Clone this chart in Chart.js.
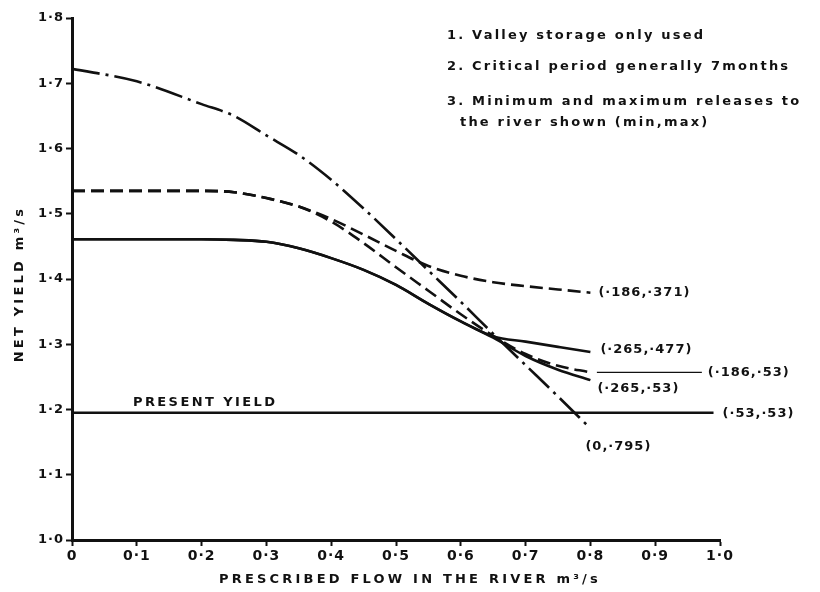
<!DOCTYPE html>
<html>
<head>
<meta charset="utf-8">
<script src="https://cdn.jsdelivr.net/npm/chart.js@4.4.0/dist/chart.umd.min.js"></script>
<style>
html, body { margin: 0; padding: 0; background: #fff; }
</style>
</head>
<body>
<canvas id="chart" width="820" height="592"></canvas>
<script>
// prescribed flow in the river (m3/s) where the curves were read
var flow = [0, 0.1, 0.2, 0.25, 0.3, 0.35, 0.4, 0.45, 0.5, 0.55, 0.6, 0.65, 0.7, 0.75, 0.8];

// net yield (m3/s) for each (min, max) release pair
var yield_0_795   = [1.722, 1.703, 1.668, 1.650, 1.620, 1.590, 1.552, 1.508, 1.461, 1.413, 1.365, 1.316, 1.268, 1.220, 1.171];
var yield_186_371 = [1.535, 1.535, 1.535, 1.533, 1.524, 1.511, 1.492, 1.468, 1.443, 1.420, 1.405, 1.395, 1.389, 1.384, 1.379];
var yield_186_53  = [1.535, 1.535, 1.535, 1.533, 1.524, 1.511, 1.488, 1.455, 1.418, 1.382, 1.346, 1.313, 1.285, 1.267, 1.257];
var yield_265_477 = [1.461, 1.461, 1.461, 1.460, 1.457, 1.447, 1.432, 1.414, 1.391, 1.362, 1.335, 1.312, 1.304, 1.296, 1.288];
var yield_265_53  = [1.461, 1.461, 1.461, 1.460, 1.457, 1.447, 1.432, 1.414, 1.391, 1.362, 1.335, 1.310, 1.282, 1.261, 1.245];

// present yield (·53,·53) is flat
var presentFlow = [0, 0.99];
var presentYield = 1.195;

// thin leader from the (·186,·53) curve to its label
var leaderFlow = [0.81, 0.972];

var xTickLabels = ['0', '0·1', '0·2', '0·3', '0·4', '0·5', '0·6', '0·7', '0·8', '0·9', '1·0'];
var yTickLabels = ['1·0', '1·1', '1·2', '1·3', '1·4', '1·5', '1·6', '1·7', '1·8'];

var notes = [
  '1. Valley storage only used',
  '2. Critical period generally 7months',
  '3. Minimum and maximum releases to',
  'the river shown (min,max)'
];

function pts(xs, ys) {
  return xs.map(function (x, i) { return { x: x, y: ys[i] }; });
}
function flat(xs, v) {
  return xs.map(function (x) { return { x: x, y: v }; });
}

var INK = '#111';
var FONT = 'bold 13px "DejaVu Sans"';

var datasets = [
  { data: pts(flow, yield_0_795), borderDash: [28, 6, 3, 6], endLabel: '(0,·795)', dx: -5, dy: 18 },
  { data: pts(flow, yield_186_371), borderDash: [13, 6], endLabel: '(·186,·371)', dx: 8, dy: 0 },
  { data: pts(flow, yield_186_53), borderDash: [13, 6] },
  { data: pts(flow, yield_265_477), endLabel: '(·265,·477)', dx: 10, dy: -2 },
  { data: pts(flow, yield_265_53), endLabel: '(·265,·53)', dx: 7, dy: 8 },
  { data: flat(presentFlow, presentYield), endLabel: '(·53,·53)', dx: 9, dy: 1 },
  { data: flat(leaderFlow, yield_186_53[yield_186_53.length - 1]), borderWidth: 1.2, endLabel: '(·186,·53)', dx: 6, dy: 0 }
].map(function (d) {
  return Object.assign({
    showLine: true,
    borderColor: INK,
    borderWidth: 2.6,
    pointRadius: 0,
    fill: false,
    cubicInterpolationMode: 'monotone'
  }, d);
});

var textPlugin = {
  id: 'texts',
  beforeDraw: function (chart) {
    // a little spacing for the tick labels too
    chart.ctx.letterSpacing = '1px';
  },
  afterDatasetsDraw: function (chart) {
    var ctx = chart.ctx;
    var area = chart.chartArea;
    ctx.save();
    ctx.fillStyle = INK;
    ctx.font = FONT;
    ctx.textBaseline = 'middle';

    // curve end labels
    ctx.letterSpacing = '1px';
    ctx.textAlign = 'left';
    chart.data.datasets.forEach(function (ds, i) {
      if (!ds.endLabel) return;
      var meta = chart.getDatasetMeta(i);
      var last = meta.data[meta.data.length - 1];
      ctx.fillText(ds.endLabel, last.x + ds.dx, last.y + ds.dy);
    });

    // present yield caption
    ctx.letterSpacing = '2.4px';
    var py = chart.scales.y.getPixelForValue(presentYield);
    ctx.fillText('PRESENT YIELD', area.left + 61, py - 10);

    // notes in the top right
    ctx.letterSpacing = '2.2px';
    var noteX = [447, 447, 447, 460];
    var noteY = [36, 67, 102, 123];
    notes.forEach(function (s, i) { ctx.fillText(s, noteX[i], noteY[i]); });

    // axis titles
    ctx.letterSpacing = '3.2px';
    ctx.textAlign = 'center';
    ctx.fillText('PRESCRIBED FLOW IN THE RIVER m³/s', (area.left + area.right) / 2 + 14, 580);
    ctx.save();
    ctx.translate(20, 284);
    ctx.rotate(-Math.PI / 2);
    ctx.fillText('NET YIELD m³/s', 0, 0);
    ctx.restore();
    ctx.restore();
  }
};

new Chart(document.getElementById('chart').getContext('2d'), {
  type: 'scatter',
  data: { datasets: datasets },
  plugins: [textPlugin],
  options: {
    responsive: false,
    animation: false,
    devicePixelRatio: 1,
    layout: { padding: { left: 0, right: 100, top: 18, bottom: 0 } },
    plugins: { legend: { display: false }, tooltip: { enabled: false } },
    scales: {
      x: {
        type: 'linear',
        min: 0,
        max: 1,
        afterFit: function (s) { s.height = 52; },
        ticks: {
          stepSize: 0.1,
          color: INK,
          padding: 2,
          maxRotation: 0,
          font: { family: 'DejaVu Sans', size: 14, weight: 'bold' },
          callback: function (v, i) { return xTickLabels[i]; }
        },
        grid: { drawOnChartArea: false, drawTicks: true, tickLength: 6, tickWidth: 2, tickColor: INK },
        border: { display: true, color: INK, width: 3 }
      },
      y: {
        min: 1,
        max: 1.8,
        afterFit: function (s) { s.width = 72; },
        ticks: {
          stepSize: 0.1,
          color: INK,
          padding: 2,
          font: { family: 'DejaVu Sans', size: 13, weight: 'bold' },
          callback: function (v, i) { return yTickLabels[i]; }
        },
        grid: { drawOnChartArea: false, drawTicks: true, tickLength: 6, tickWidth: 2, tickColor: INK },
        border: { display: true, color: INK, width: 3 }
      }
    }
  }
});
</script>
</body>
</html>
